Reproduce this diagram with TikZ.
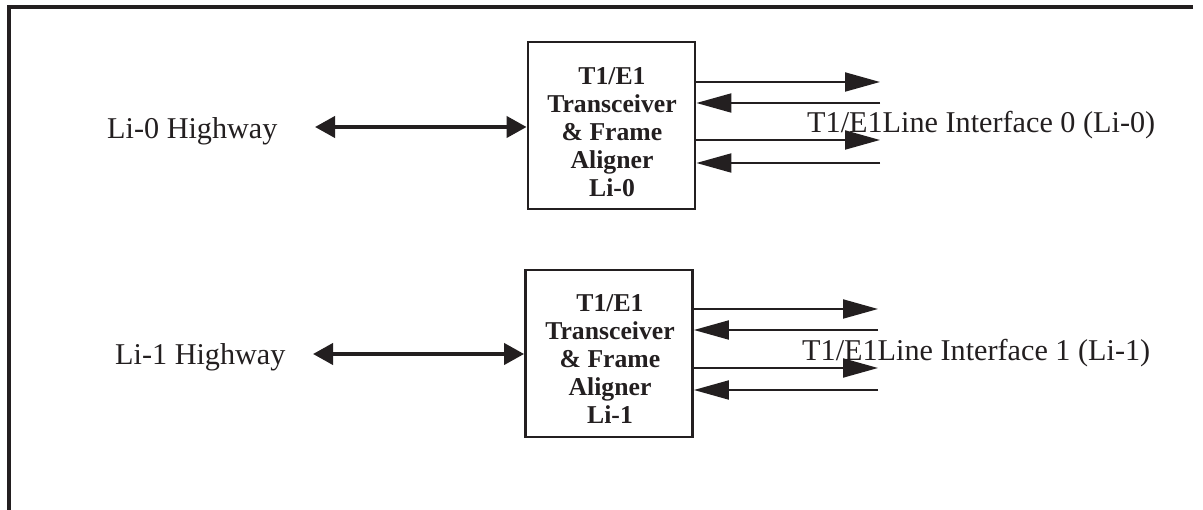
\documentclass[tikz,border=0pt]{standalone}
\usepackage{fontspec}
\setmainfont{Liberation Serif}
\usetikzlibrary{arrows.meta}
\definecolor{ink}{RGB}{35,31,32}
\tikzset{
  frame/.style={draw=ink, line width=4pt},
  chip/.style={draw=ink, line width=2.8pt, minimum width=167pt, minimum height=167pt, inner sep=0pt},
  chiptext/.style={text=ink, align=center, inner sep=0pt, font=\bfseries\fontsize{25.7}{28}\selectfont},
  label/.style={text=ink, inner sep=0pt, font=\fontsize{30.2}{36}\selectfont},
  sig/.style={draw=ink, line width=2pt, -{Triangle[length=35pt,width=19pt]}},
  bus/.style={draw=ink, line width=4pt, {Triangle[length=20pt,width=21pt]}-{Triangle[length=20pt,width=21pt]}},
}
\begin{document}
\begin{tikzpicture}[x=1pt,y=-1pt]
\useasboundingbox (0,0) rectangle (1203,510);

% open frame: top edge and left edge
\coordinate (ftr) at (1193,7);
\coordinate (ftl) at (9,7);
\coordinate (fbl) at (9,510);
\draw[frame, line join=miter] (ftr) -- (ftl) -- (fbl);

% transceiver / framer blocks
\node[chip] (b0) at (611.5,125.5) {};
\node[chip] (b1) at (609,353.5) {};
% text blocks, anchored on the baseline of their last line
\node[chiptext, anchor=base] (b0t) at (612,197) {T1/E1\\Transceiver\\\& Frame\\Aligner\\Li-0};
\node[chiptext, anchor=base] (b1t) at (610,424) {T1/E1\\Transceiver\\\& Frame\\Aligner\\Li-1};

% highway labels and bidirectional buses
\node[label, anchor=base west] (hw0) at (107,139) {Li-0 Highway};
\node[label, anchor=base west] (hw1) at (115,365) {Li-1 Highway};
\coordinate (h0) at (315,127);
\coordinate (h1) at (313,354);
\draw[bus] (h0) -- (b0.west |- h0);
\draw[bus] (h1) -- (b1.west |- h1);

% line-side signals, block 0
\coordinate (r0a) at (880,82);
\coordinate (r0b) at (880,103);
\coordinate (r0c) at (880,140);
\coordinate (r0d) at (880,163);
\draw[sig] (b0.east |- r0a) -- (r0a);
\draw[sig] (r0b) -- (b0.east |- r0b);
\draw[sig] (b0.east |- r0c) -- (r0c);
\draw[sig] (r0d) -- (b0.east |- r0d);

% line-side signals, block 1
\coordinate (r1a) at (878,309);
\coordinate (r1b) at (878,330);
\coordinate (r1c) at (878,368);
\coordinate (r1d) at (878,390);
\draw[sig] (b1.east |- r1a) -- (r1a);
\draw[sig] (r1b) -- (b1.east |- r1b);
\draw[sig] (b1.east |- r1c) -- (r1c);
\draw[sig] (r1d) -- (b1.east |- r1d);

% line interface labels
\node[label, anchor=base west] (li0) at (807,133) {T1/E1Line Interface 0 (Li-0)};
\node[label, anchor=base west] (li1) at (802,361) {T1/E1Line Interface 1 (Li-1)};
\end{tikzpicture}
\end{document}
